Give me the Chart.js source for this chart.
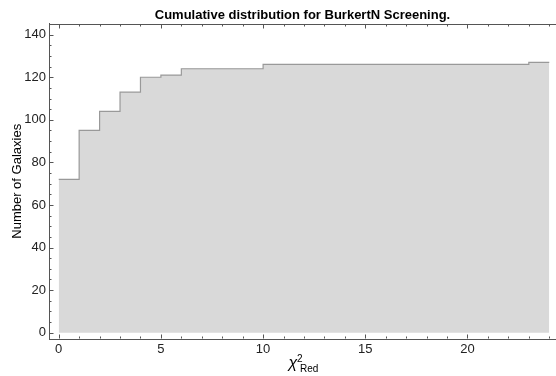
<!DOCTYPE html>
<html><head><meta charset="utf-8">
<script src="https://cdn.jsdelivr.net/npm/chart.js@4"></script>
<style>html,body{margin:0;padding:0;background:#fff}</style>
</head><body>
<canvas id="c" width="556" height="376" style="display:block;width:556px;height:376px"></canvas>
<script>
// ---- data ----
const chiEdges = [0, 1, 2, 3, 4, 5, 6, 10, 23, 24];
const galaxyCounts = [72, 95, 104, 113, 120, 121, 124, 126, 127, 127];
const xTickValues = [0, 5, 10, 15, 20];
const yTickValues = [0, 20, 40, 60, 80, 100, 120, 140];
const titleText = 'Cumulative distribution for BurkertN Screening.';
const yTitleText = 'Number of Galaxies';

const FONT = '"Liberation Sans", Arial, sans-serif';
const AXIS = '#555555';

const frameTicks = {
  id: 'frameTicks',
  afterDraw(chart) {
    const {ctx, chartArea: a, scales: {x, y}} = chart;
    ctx.save();
    ctx.strokeStyle = AXIS;
    ctx.lineWidth = 1;
    ctx.beginPath();
    const top = Math.round(a.top) + 0.5;
    ctx.moveTo(a.left, top); ctx.lineTo(a.right, top);
    const bot = Math.round(a.bottom) - 0.5;
    for (let v = 0; v <= 24; v++) {
      const px = Math.round(x.getPixelForValue(v)) + 0.5;
      const len = v % 5 === 0 ? 4 : 2;
      ctx.moveTo(px, bot); ctx.lineTo(px, bot - len);
      ctx.moveTo(px, top); ctx.lineTo(px, top + len);
    }
    const lx = Math.round(a.left) + 0.5;
    for (let v = 0; v <= 145; v += 5) {
      const py = Math.round(y.getPixelForValue(v)) + 0.5;
      const len = v % 20 === 0 ? 4 : 2;
      ctx.moveTo(lx, py); ctx.lineTo(lx + len, py);
    }
    ctx.stroke();
    // x-axis title: chi^2_Red
    ctx.fillStyle = '#000';
    ctx.textAlign = 'left';
    ctx.textBaseline = 'alphabetic';
    ctx.font = 'italic 16px ' + FONT;
    ctx.fillText('\u03C7', 288.5, 368);
    ctx.font = '10px ' + FONT;
    ctx.fillText('2', 297, 362);
    ctx.font = '10px ' + FONT;
    ctx.fillText('Red', 300, 372);
    ctx.restore();
  }
};

new Chart(document.getElementById('c'), {
  type: 'line',
  data: {
    datasets: [{
      data: chiEdges.map((v, i) => ({x: v, y: galaxyCounts[i]})),
      stepped: 'before',
      fill: 'origin',
      backgroundColor: '#d9d9d9',
      borderColor: '#999999',
      borderWidth: 1.2,
      pointRadius: 0,
      tension: 0
    }]
  },
  options: {
    responsive: false,
    devicePixelRatio: 1,
    animation: false,
    layout: {padding: 0},
    plugins: {
      legend: {display: false},
      tooltip: {enabled: false},
      title: {
        display: true, text: titleText, fullSize: false,
        color: '#000', font: {family: FONT, size: 13, weight: 'bold'},
        padding: {top: 8, bottom: 0}
      }
    },
    scales: {
      x: {
        type: 'linear', min: -0.475, max: 24.33,
        grid: {display: false, drawTicks: false},
        border: {display: true, color: AXIS, width: 1},
        afterBuildTicks: s => { s.ticks = xTickValues.map(v => ({value: v})); },
        afterFit: s => { s.height = 37; },
        ticks: {color: '#222', font: {family: FONT, size: 13}, padding: 3, maxRotation: 0}
      },
      y: {
        type: 'linear', min: -2.96, max: 145.2,
        grid: {display: false, drawTicks: false},
        border: {display: true, color: AXIS, width: 1},
        afterBuildTicks: s => { s.ticks = yTickValues.map(v => ({value: v})); },
        afterFit: s => { s.width = 49; },
        ticks: {color: '#222', font: {family: FONT, size: 13}, padding: 3},
        title: {display: true, text: yTitleText, color: '#000',
                font: {family: FONT, size: 13}, padding: {top: 10, bottom: 0}}
      }
    }
  },
  plugins: [frameTicks]
});
</script>
</body></html>
